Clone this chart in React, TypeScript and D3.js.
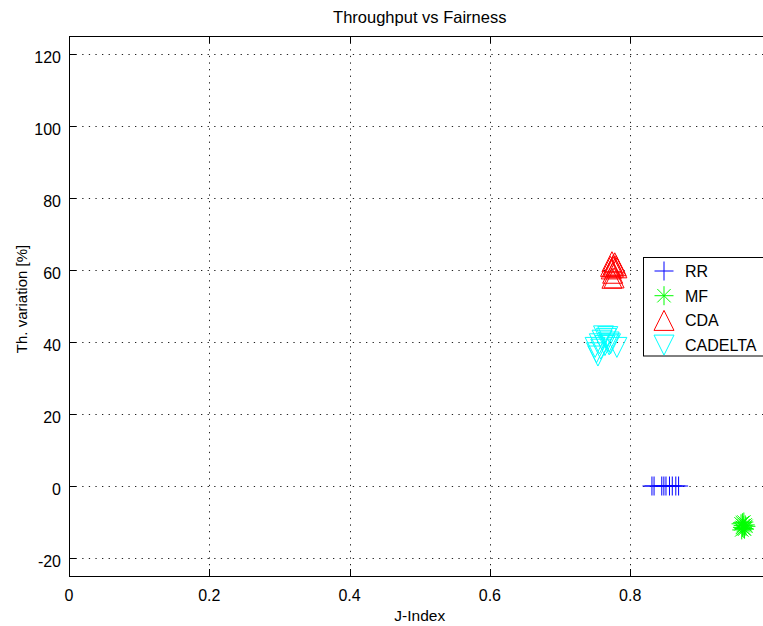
import React from "react";
import * as d3 from "d3";

const title = "Throughput vs Fairness";
const xLabel = "J-Index";
const yLabel = "Th. variation [%]";

const xTicks = [0, 0.2, 0.4, 0.6, 0.8, 1];
const xTickLabels = ["0", "0.2", "0.4", "0.6", "0.8", ""];
const yTicks = [-20, 0, 20, 40, 60, 80, 100, 120];
const yTickLabels = ["-20", "0", "20", "40", "60", "80", "100", "120"];

const seriesNames = ["RR", "MF", "CDA", "CADELTA"];
const seriesColors = ["#0000ff", "#00ff00", "#ff0000", "#00ffff"];
const seriesMarkers = ["plus", "asterisk", "triUp", "triDown"];

const rrX = [0.831, 0.834, 0.845, 0.848, 0.851, 0.856, 0.860, 0.865, 0.869];
const rrY = [0, 0, 0, 0, 0, 0, 0, 0, 0];

const mfX = [0.958, 0.960, 0.962, 0.963, 0.961, 0.964, 0.959, 0.962, 0.960, 0.965];
const mfY = [-10.5, -11.5, -10.0, -12.0, -11.0, -10.8, -12.2, -11.8, -10.2, -11.2];

const cdaX = [0.772, 0.774, 0.776, 0.778, 0.780, 0.781, 0.773, 0.775, 0.777, 0.774, 0.776];
const cdaY = [61.0, 62.3, 61.4, 62.0, 61.2, 60.6, 60.3, 59.1, 57.8, 57.7, 60.8];

const cadX = [0.750, 0.752, 0.754, 0.756, 0.758, 0.760, 0.762, 0.764, 0.766, 0.768, 0.770, 0.772, 0.781, 0.770];
const cadY = [38.5, 37.0, 36.1, 39.5, 38.0, 40.5, 41.7, 39.0, 41.0, 41.5, 40.0, 39.5, 38.5, 39.2];

const seriesX = [rrX, mfX, cdaX, cadX];
const seriesY = [rrY, mfY, cdaY, cadY];

const W = 763;
const H = 626;
const left = 69;
const right = 770.5;
const top = 36;
const bottom = 576;

const FONT = "'Liberation Sans', Arial, Helvetica, sans-serif";

function markerPath(kind: string, h: number): string {
  const d = h * 0.7071;
  switch (kind) {
    case "plus":
      return `M${-h},0H${h}M0,${-h}V${h}`;
    case "asterisk":
      return `M${-h},0H${h}M0,${-h}V${h}M${-d},${-d}L${d},${d}M${-d},${d}L${d},${-d}`;
    case "triUp":
      return `M0,${-h}L${h},${h}L${-h},${h}Z`;
    case "triDown":
      return `M0,${h}L${h},${-h}L${-h},${-h}Z`;
    default:
      return "";
  }
}

export default function App() {
  const x = d3.scaleLinear().domain([0, 1]).range([left, right]);
  const y = d3.scaleLinear().domain([-25, 125]).range([bottom, top]);
  const mh = [9.5, 9.5, 10, 10];
  const legendY = d3.scaleLinear().domain([0, 3]).range([271, 345.1]);

  return (
    <svg
      width={W}
      height={H}
      style={{ position: "absolute", left: 0, top: 0, background: "#fff" }}
      fontFamily={FONT}
    >
      <rect x={0} y={0} width={W} height={H} fill="#fff" />
      {/* grid */}
      <g stroke="#222" strokeWidth={1} strokeDasharray="1.3,5.3" fill="none">
        {xTicks.map((t, i) =>
          i === 0 ? null : (
            <line key={"gx" + i} x1={Math.round(x(t)) + 0.5} x2={Math.round(x(t)) + 0.5} y1={top} y2={bottom} />
          )
        )}
        {yTicks.map((t, i) => (
          <line key={"gy" + i} x1={left} x2={right} y1={Math.round(y(t)) + 0.5} y2={Math.round(y(t)) + 0.5} />
        ))}
      </g>
      {/* ticks */}
      <g stroke="#000" strokeWidth={1}>
        {xTicks.map((t, i) => (
          <g key={"tx" + i}>
            <line x1={Math.round(x(t)) + 0.5} x2={Math.round(x(t)) + 0.5} y1={bottom} y2={bottom - 7} />
            <line x1={Math.round(x(t)) + 0.5} x2={Math.round(x(t)) + 0.5} y1={top} y2={top + 7} />
          </g>
        ))}
        {yTicks.map((t, i) => (
          <g key={"ty" + i}>
            <line x1={left} x2={left + 7} y1={Math.round(y(t)) + 0.5} y2={Math.round(y(t)) + 0.5} />
            <line x1={right} x2={right - 7} y1={Math.round(y(t)) + 0.5} y2={Math.round(y(t)) + 0.5} />
          </g>
        ))}
      </g>
      {/* axes box */}
      <rect x={left + 0.5} y={top + 0.5} width={right - left} height={bottom - top} fill="none" stroke="#000" strokeWidth={1} />
      {/* tick labels */}
      <g fontSize={16} fill="#000">
        {xTicks.map((t, i) =>
          xTickLabels[i] ? (
            <text key={"lx" + i} x={x(t)} y={601} textAnchor="middle">
              {xTickLabels[i]}
            </text>
          ) : null
        )}
        {yTicks.map((t, i) => (
          <text key={"ly" + i} x={61} y={y(t) + 9} textAnchor="end">
            {yTickLabels[i]}
          </text>
        ))}
      </g>
      {/* data */}
      {seriesNames.map((name, s) => (
        <g key={name} stroke={seriesColors[s]} strokeWidth={1} fill="none">
          {seriesX[s].map((vx, i) => (
            <path
              key={i}
              transform={`translate(${x(vx)},${y(seriesY[s][i])})`}
              d={markerPath(seriesMarkers[s], mh[s])}
            />
          ))}
        </g>
      ))}
      {/* legend */}
      <rect x={643.5} y={257.5} width={130} height={98.5} fill="#fff" stroke="#000" strokeWidth={1} />
      {seriesNames.map((name, s) => (
        <g key={"lg" + name}>
          <path
            transform={`translate(664,${legendY(s)})`}
            d={markerPath(seriesMarkers[s], mh[s])}
            stroke={seriesColors[s]}
            strokeWidth={1}
            fill="none"
          />
          <text x={685} y={legendY(s) + 6} fontSize={16} fill="#000">
            {name}
          </text>
        </g>
      ))}
      {/* labels */}
      <text x={(left + right) / 2} y={22.5} textAnchor="middle" fontSize={16.5} fill="#000">
        {title}
      </text>
      <text x={(left + right) / 2} y={621} textAnchor="middle" fontSize={15.5} fill="#000">
        {xLabel}
      </text>
      <text
        transform={`translate(26.5,299) rotate(-90)`}
        textAnchor="middle"
        fontSize={15}
        fill="#000"
      >
        {yLabel}
      </text>
    </svg>
  );
}
